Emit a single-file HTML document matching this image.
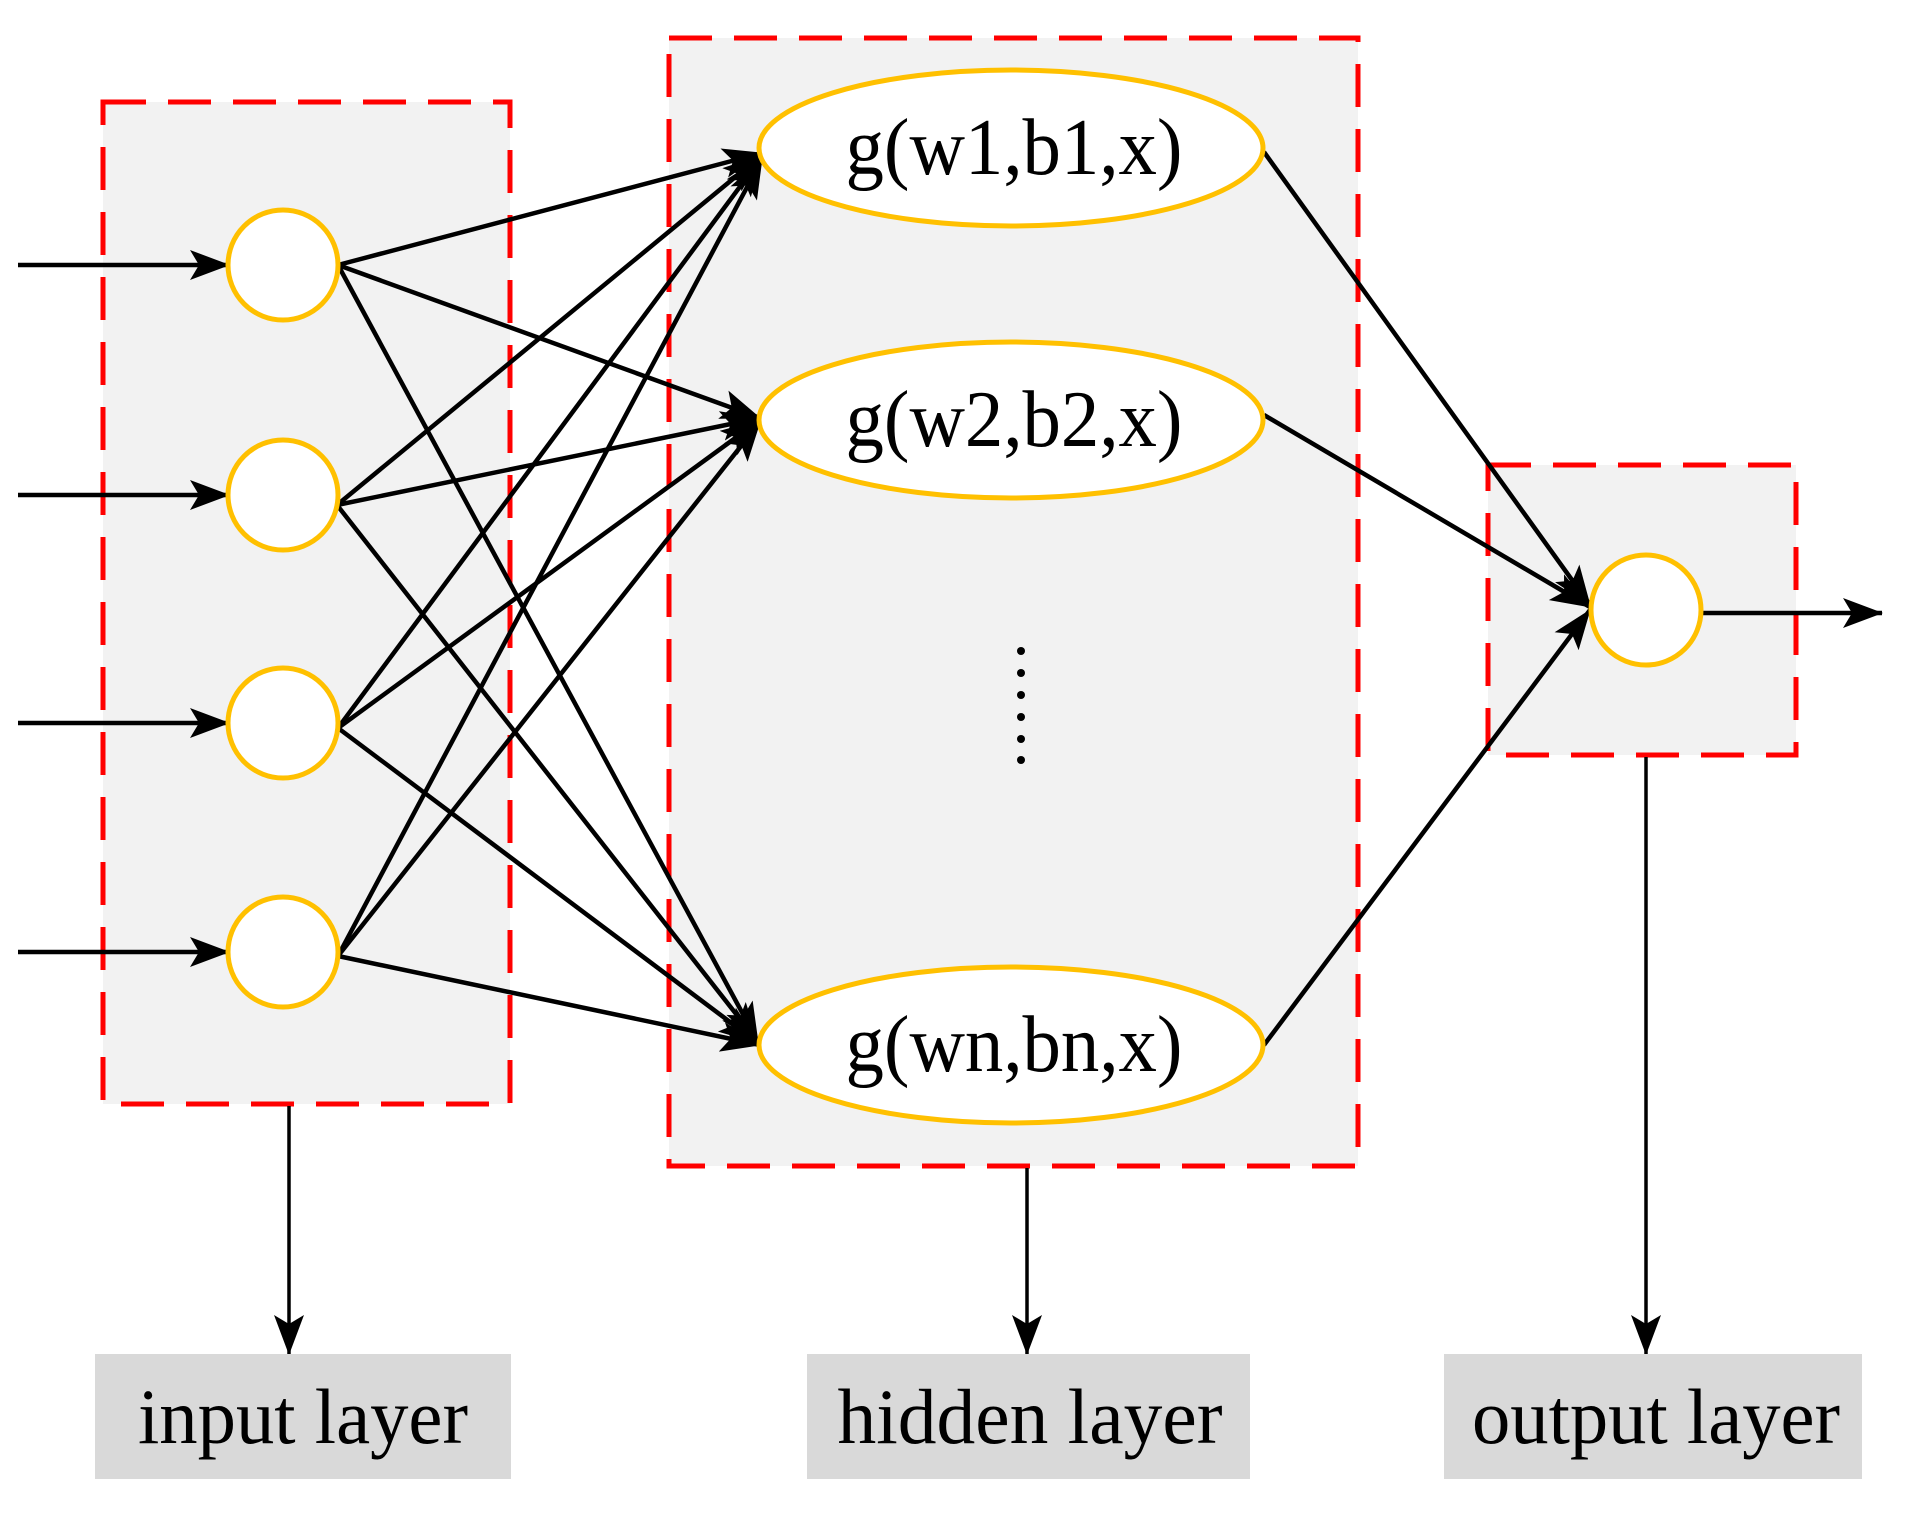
<!DOCTYPE html>
<html><head><meta charset="utf-8"><style>
html,body{margin:0;padding:0;background:#fff;}
svg{display:block;}
text{font-family:"Liberation Serif",serif;fill:#000;}
</style></head><body>
<svg width="1929" height="1513" viewBox="0 0 1929 1513" xmlns="http://www.w3.org/2000/svg">
<defs>
<marker id="a" viewBox="0 0 40 30" refX="39" refY="15" markerWidth="40" markerHeight="30" markerUnits="userSpaceOnUse" orient="auto">
<path d="M0,0 L40,15 L0,30 L9,15 Z" fill="#000"/>
</marker>
</defs>
<rect x="103" y="102" width="407" height="1002" fill="#f2f2f2" stroke="#ff0000" stroke-width="5" stroke-dasharray="43,22"/>
<rect x="669" y="38" width="689" height="1128" fill="#f2f2f2" stroke="#ff0000" stroke-width="5" stroke-dasharray="43,22"/>
<rect x="1488" y="465" width="308" height="290" fill="#f2f2f2" stroke="#ff0000" stroke-width="5" stroke-dasharray="43,22"/>

<g stroke="#000" stroke-width="4.5" fill="none">
<line x1="18" y1="265" x2="229" y2="265" marker-end="url(#a)"/>
<line x1="18" y1="495" x2="229" y2="495" marker-end="url(#a)"/>
<line x1="18" y1="723" x2="229" y2="723" marker-end="url(#a)"/>
<line x1="18" y1="952" x2="229" y2="952" marker-end="url(#a)"/>
<line x1="338" y1="265" x2="762" y2="153" marker-end="url(#a)"/>
<line x1="338" y1="265" x2="760" y2="418" marker-end="url(#a)"/>
<line x1="338" y1="265" x2="758" y2="1042" marker-end="url(#a)"/>
<line x1="337" y1="505" x2="762" y2="155" marker-end="url(#a)"/>
<line x1="337" y1="505" x2="760" y2="418" marker-end="url(#a)"/>
<line x1="337" y1="505" x2="758" y2="1042" marker-end="url(#a)"/>
<line x1="338" y1="728" x2="762" y2="157" marker-end="url(#a)"/>
<line x1="338" y1="728" x2="760" y2="420" marker-end="url(#a)"/>
<line x1="338" y1="728" x2="758" y2="1043" marker-end="url(#a)"/>
<line x1="338" y1="956" x2="762" y2="159" marker-end="url(#a)"/>
<line x1="338" y1="956" x2="760" y2="422" marker-end="url(#a)"/>
<line x1="338" y1="956" x2="760" y2="1045" marker-end="url(#a)"/>
<line x1="1264" y1="152" x2="1590" y2="605" marker-end="url(#a)"/>
<line x1="1264" y1="415" x2="1590" y2="607" marker-end="url(#a)"/>
<line x1="1264" y1="1045" x2="1590" y2="610" marker-end="url(#a)"/>
<line x1="1703" y1="613" x2="1882" y2="613" marker-end="url(#a)"/>
</g>
<g stroke="#000" stroke-width="3.5" fill="none">
<line x1="289" y1="1106" x2="289" y2="1354" marker-end="url(#a)"/>
<line x1="1027" y1="1168" x2="1027" y2="1354" marker-end="url(#a)"/>
<line x1="1646" y1="757" x2="1646" y2="1354" marker-end="url(#a)"/>
</g>

<g fill="#fff" stroke="#ffc000" stroke-width="5">
<ellipse cx="283" cy="265" rx="55" ry="55"/>
<ellipse cx="283" cy="495" rx="55" ry="55"/>
<ellipse cx="283" cy="723" rx="55" ry="55"/>
<ellipse cx="283" cy="952" rx="55" ry="55"/>
<ellipse cx="1011" cy="148" rx="252" ry="78"/>
<ellipse cx="1011" cy="420" rx="252" ry="78"/>
<ellipse cx="1011" cy="1045" rx="252" ry="78"/>
<ellipse cx="1646" cy="610" rx="55" ry="55"/>
</g>
<g font-size="80" text-anchor="middle">
<text x="1014" y="174" textLength="337" lengthAdjust="spacingAndGlyphs">g(w1,b1,x)</text>
<text x="1014" y="446" textLength="337" lengthAdjust="spacingAndGlyphs">g(w2,b2,x)</text>
<text x="1014" y="1071" textLength="337" lengthAdjust="spacingAndGlyphs">g(wn,bn,x)</text>
</g>
<g fill="#000">
<circle cx="1021" cy="651" r="4"/>
<circle cx="1021" cy="673" r="4"/>
<circle cx="1021" cy="695" r="4"/>
<circle cx="1021" cy="717" r="4"/>
<circle cx="1021" cy="739" r="4"/>
<circle cx="1021" cy="760" r="4"/>
</g>
<rect x="95" y="1354" width="416" height="125" fill="#d9d9d9"/>
<rect x="807" y="1354" width="443" height="125" fill="#d9d9d9"/>
<rect x="1444" y="1354" width="418" height="125" fill="#d9d9d9"/>
<g font-size="78" text-anchor="middle">
<text x="303" y="1443" textLength="330" lengthAdjust="spacingAndGlyphs">input layer</text>
<text x="1030" y="1443" textLength="385" lengthAdjust="spacingAndGlyphs">hidden layer</text>
<text x="1656" y="1443" textLength="368" lengthAdjust="spacingAndGlyphs">output layer</text>
</g>
</svg>
</body></html>
